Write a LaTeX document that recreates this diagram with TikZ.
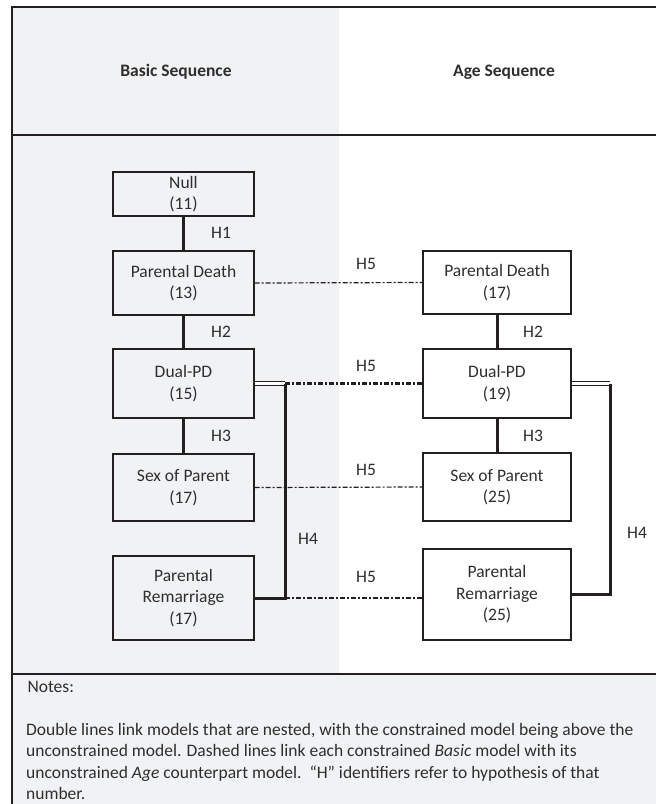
\documentclass[tikz,border=0pt]{standalone}
\usepackage{fontspec}
\setmainfont{Carlito}
\usetikzlibrary{calc}
\definecolor{panelgray}{HTML}{F1F2F4}
\definecolor{inkline}{HTML}{231F20}
\definecolor{inktext}{HTML}{2E2E2E}
\tikzset{
  model/.style={draw=inkline, line width=1.3pt, align=center, inner sep=0pt,
    text=inktext, font=\fontsize{17.5}{21.5}\selectfont},
  frame/.style={inkline, line width=1.6pt},
  nest/.style={inkline, line width=3pt},
  nested/.style={inkline, line width=1pt, double=white, double distance=2.4pt},
  counterpart/.style={inkline, line width=1.2pt, dash pattern=on 5pt off 2pt on 2pt off 2pt},
  hyp/.style={text=inktext, font=\fontsize{17.5}{21.5}\selectfont},
}

\begin{document}
\begin{tikzpicture}[x=1pt, y=-1pt]
\def\xB{183.5}
\def\xA{497}
\def\xHL{285}
\def\xHR{610}
\useasboundingbox (0,0) rectangle (656,804);

% Panels
\fill[panelgray] (12,7) rectangle (339,674);
\fill[panelgray] (12,674) rectangle (656,804);
\draw[frame] (656,7) -- (12,7) -- (12,804);
\draw[frame] (12,135) -- (656,135);
\draw[frame] (12,674) -- (656,674);

% Column heads
\node[hyp, font=\fontsize{17.5}{21.5}\selectfont\bfseries] (headB) at (176,72) {Basic Sequence};
\node[hyp, font=\fontsize{17.5}{21.5}\selectfont\bfseries] (headA) at (504,72) {Age Sequence};

% Basic models
\node[model, minimum width=141pt, minimum height=44pt] (bNull) at (\xB,194) {Null\\(11)};
\node[model, minimum width=141pt, minimum height=64pt] (bPD) at (\xB,283) {Parental Death\\(13)};
\node[model, minimum width=141pt, minimum height=69pt] (bDual) at (\xB,383.5) {Dual-PD\\(15)};
\node[model, minimum width=141pt, minimum height=67pt] (bSex) at (\xB,487.5) {Sex of Parent\\(17)};
\node[model, minimum width=141pt, minimum height=84pt] (bRem) at (\xB,598) {Parental\\Remarriage\\(17)};

% Age models
\node[model, minimum width=148pt, minimum height=63pt] (aPD) at (\xA,282.5) {Parental Death\\(17)};
\node[model, minimum width=148pt, minimum height=69pt] (aDual) at (\xA,383.5) {Dual-PD\\(19)};
\node[model, minimum width=148pt, minimum height=68pt] (aSex) at (\xA,487) {Sex of Parent\\(25)};
\node[model, minimum width=148pt, minimum height=91pt] (aRem) at (\xA,594.5) {Parental\\Remarriage\\(25)};

% Nested steps
\draw[nest] (bNull) -- (bPD);
\draw[nest] (bPD) -- (bDual);
\draw[nest] (bDual) -- (bSex);
\draw[nest] (aPD) -- (aDual);
\draw[nest] (aDual) -- (aSex);
\node[hyp] (h1) at (221,233) {H1};
\node[hyp] (h2b) at (221,332) {H2};
\node[hyp] (h3b) at (221,436) {H3};
\node[hyp] (h2a) at (533,332) {H2};
\node[hyp] (h3a) at (533,436) {H3};

% H4 brackets
\coordinate (jTopB) at (\xHL,383.5);
\coordinate (jBotB) at (\xHL,598);
\coordinate (jTopA) at (\xHR,383.5);
\coordinate (jBotA) at (\xHR,594.5);
\draw[nested] (bDual.east) -- (jTopB);
\draw[nest] (jTopB) -- (jBotB) -- (bRem.east);
\draw[nested] (aDual.east) -- (jTopA);
\draw[nest] (jTopA) -- (jBotA) -- (aRem.east);
\node[hyp] (h4b) at (308,539) {H4};
\node[hyp] (h4a) at (637,533) {H4};

% Counterparts
\draw[counterpart] (bPD.east) -- (aPD.west);
\draw[counterpart, line width=2.2pt] (jTopB) -- (aDual.west);
\draw[counterpart] (bSex.east) -- (aSex.west);
\draw[counterpart] (jBotB) -- (aRem.west |- jBotB);
\foreach \y/\n in {264/1,366/2,470/3,577/4}
  \node[hyp] (h5\n) at (366,\y) {H5};

% Notes
\node[hyp, anchor=west] (notesHead) at (24,687) {Notes:};
\node[hyp, anchor=north west, align=left, inner sep=0pt] (notesText) at (26,723)
  {Double lines link models that are nested, with the constrained model being above the\\
   unconstrained model. Dashed lines link each constrained \emph{Basic} model with its\\
   unconstrained \emph{Age} counterpart model.\ \ “H” identifiers refer to hypothesis of that\\
   number.};
\end{tikzpicture}
\end{document}
